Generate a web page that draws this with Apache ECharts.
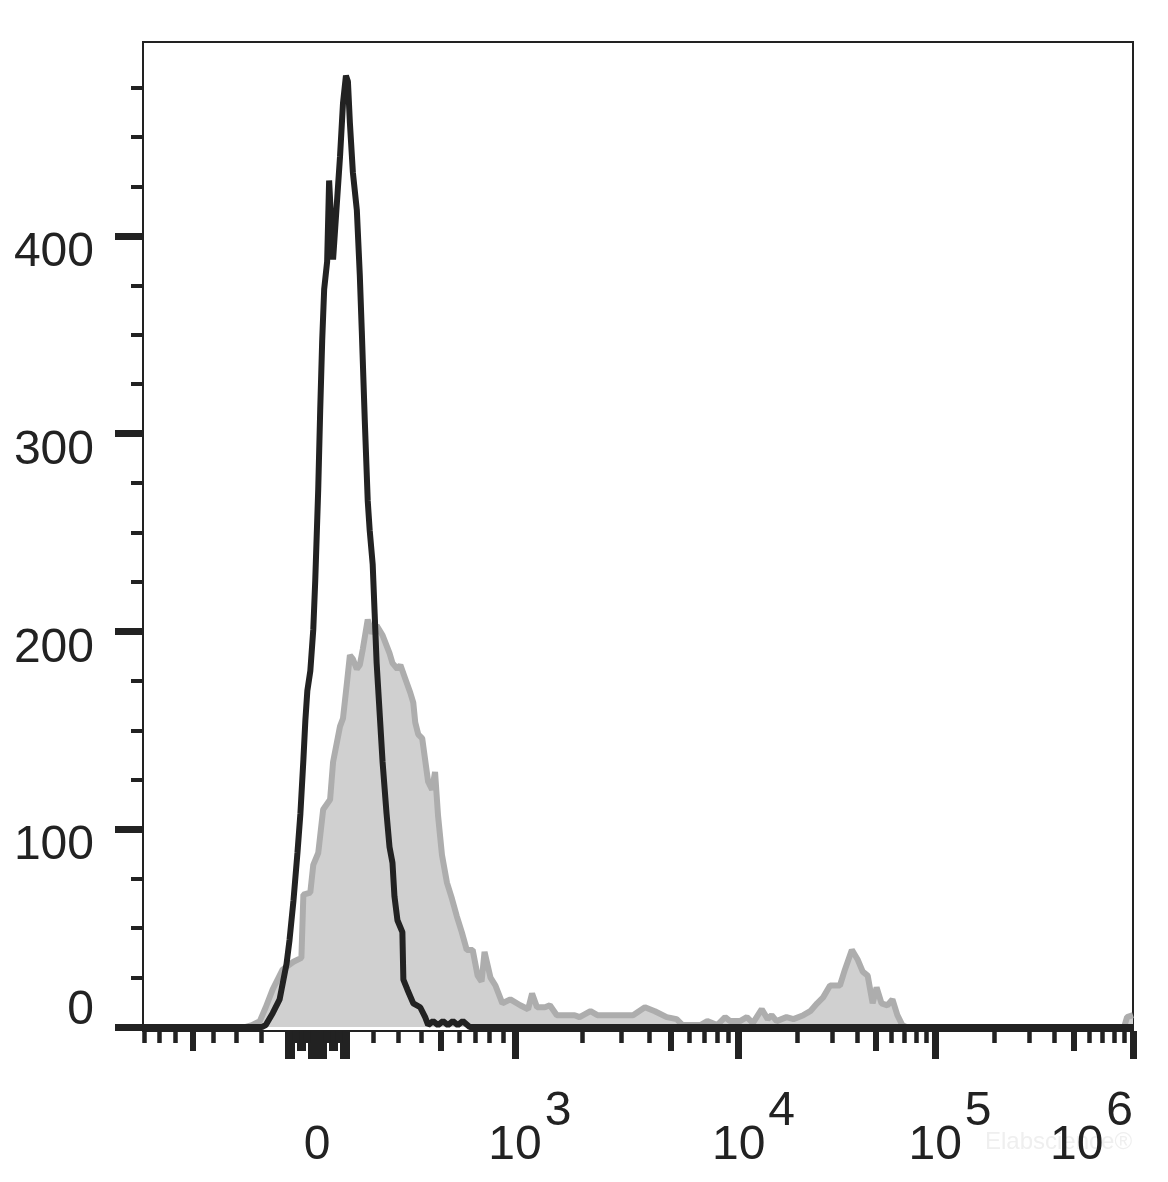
<!DOCTYPE html>
<html>
<head>
<meta charset="utf-8">
<script src="https://cdn.jsdelivr.net/npm/echarts@6/dist/echarts.min.js"></script>
<style>
html,body{margin:0;padding:0;background:#fff;}
#chart{width:1168px;height:1182px;}
</style>
</head>
<body>
<div id="chart"></div>
<script>
// ---------- DATA (display channel 0..1000, event counts) ----------
const grayChannels = [0,103,110,118,124,131,141,152,160,162,169,172,177,182,189,192,199,202,206,209,212,216,219,222,227,231,236,242,249,252,257,260,265,270,273,275,278,282,285,288,292,295,298,302,307,312,317,322,327,333,338,342,345,351,356,363,371,381,389,393,398,406,411,418,428,436,441,452,459,475,489,495,507,517,529,539,545,563,570,580,588,593,603,610,616,625,631,635,640,650,657,667,674,681,687,694,704,709,716,722,727,732,737,741,746,752,757,762,767,771,991,994,1000];
const grayCounts = [0,0,1,3,10,19,29,33,35,67,68,82,88,110,115,134,152,156,174,188,186,181,183,191,206,199,203,198,189,184,181,183,176,169,164,154,148,146,135,124,120,129,107,87,73,65,56,48,39,39,26,23,38,25,21,12,14,11,9,17,10,10,11,6,6,6,5,8,6,6,6,6,10,8,5,4,1,1,3,1,5,3,3,5,2,9,4,6,3,5,4,6,8,12,15,21,21,29,39,34,28,26,12,20,12,11,14,6,1,0,0,5,6];

const blackChannels = [0,120,124,131,138,145,148,152,156,159,162,164,166,169,172,174,177,179,181,183,186,188,192,199,202,205,207,209,212,216,219,221,224,227,229,232,234,236,239,242,246,249,252,254,257,262,263,267,273,280,285,288,293,298,303,308,313,318,323,330,1000];
const blackCounts = [0,0,1,7,14,32,44,64,88,108,135,155,170,180,201,226,272,312,347,373,387,428,388,440,467,481,478,457,432,413,380,352,307,266,251,234,209,184,159,134,108,91,83,66,54,48,24,19,12,10,5,1,3,1,3,1,3,1,3,0,0];

// y axis ticks / labels
const yMajorTicks = [0,100,200,300,400];
const yMinorTicks = [25,50,75,125,150,175,225,250,275,325,350,375,425,450,475];

// x axis ticks (fluorescence values) and labels
const xMajorTickValues = [-100,-90,-20,-10,0,10,20,90,100,1e3,1e4,1e5,1e6];
const xMediumTickValues = [-500,-60,-50,50,60,500,5e3,5e4,5e5];
const xMinorTickValues = [-800,-700,-600,-400,-300,-200,-80,-70,-40,-30,30,40,70,80,200,300,400,600,700,800,900,2e3,3e3,4e3,6e3,7e3,8e3,9e3,2e4,3e4,4e4,6e4,7e4,8e4,9e4,2e5,3e5,4e5,6e5,7e5,8e5,9e5];
const xLabelValues = [0,1e3,1e4,1e5,1e6];
const xLabelBase = ['0','10','10','10','10'];
const xLabelExp = ['','3','4','5','6'];

// ---------- display scale (biexponential-like) ----------
const X_ZERO = 175.8, X_B = 127.3, X_C = 435;
const X_DECADE_ANCHORS = [[1e4,601.5],[1e5,800],[1e6,1000]];
function toChannel(v){
  const a = Math.abs(v);
  if (a <= 1000) return X_ZERO + Math.sign(v) * X_B * Math.asinh(a / X_C);
  let lo = 1e3, loC = toChannel(1e3);
  for (const [dv, dc] of X_DECADE_ANCHORS){
    if (a <= dv) return loC + (dc - loC) * Math.log10(a / lo) / Math.log10(dv / lo);
    lo = dv; loC = dc;
  }
  return 1000;
}

const FONT = "'Liberation Sans', Arial, Helvetica, sans-serif";
const INK = '#222222';
const zip = (xs, ys) => xs.map((x, i) => [x, ys[i]]);

const chart = echarts.init(document.getElementById('chart'), null, {renderer:'canvas'});

const X_MIN = 0, X_MAX = 1000, Y_MIN = -2, Y_MAX = 498;
const baseX = {
  type:'value', min:X_MIN, max:X_MAX, position:'bottom', gridIndex:0,
  axisLine:{show:false, onZero:false},
  splitLine:{show:false},
  axisLabel:{show:false}
};
const xLabelChannels = xLabelValues.map(toChannel);
const labelText = {fontSize:48, fontFamily:FONT, color:INK};

const option = {
  animation:false,
  backgroundColor:'#ffffff',
  grid:{left:143, top:42, width:990, height:989, show:true, borderColor:INK, borderWidth:2, backgroundColor:'transparent'},
  xAxis:[
    Object.assign({}, baseX, {
      axisLine:{show:true, onZero:false, lineStyle:{color:INK, width:2}},
      axisTick:{show:true, customValues:xMajorTickValues.map(toChannel), length:28, lineStyle:{color:INK, width:7}},
      axisLabel:{
        show:true, customValues:xLabelChannels, margin:57, showMaxLabel:true, showMinLabel:true,
        formatter:function(val){
          let i = 0, best = Infinity;
          xLabelChannels.forEach((c, k) => { const d = Math.abs(c - val); if (d < best){best = d; i = k;} });
          if (!xLabelExp[i]) return '{zero|' + xLabelBase[i] + '}';
          if (i === xLabelValues.length - 1) return '{baseE|' + xLabelBase[i] + '}{expE|' + xLabelExp[i] + '}';
          return '{base|' + xLabelBase[i] + '}{exp|' + xLabelExp[i] + '}';
        },
        rich:{
          zero:Object.assign({padding:[34,0,0,0]}, labelText),
          base:Object.assign({padding:[34,0,0,30]}, labelText),
          exp:Object.assign({padding:[0,0,34,3]}, labelText),
          baseE:Object.assign({padding:[34,0,0,0]}, labelText),
          expE:Object.assign({padding:[0,83,34,3]}, labelText)
        }
      }
    }),
    Object.assign({}, baseX, {
      axisTick:{show:true, customValues:xMediumTickValues.map(toChannel), length:20, lineStyle:{color:INK, width:6}}
    }),
    Object.assign({}, baseX, {
      axisTick:{show:true, customValues:xMinorTickValues.map(toChannel), length:12, lineStyle:{color:INK, width:4.5}}
    })
  ],
  yAxis:[
    {
      type:'value', min:Y_MIN, max:Y_MAX, position:'left',
      axisLine:{show:true, onZero:false, lineStyle:{color:INK, width:2}},
      axisTick:{show:true, customValues:yMajorTicks, length:28, lineStyle:{color:INK, width:7}},
      splitLine:{show:false},
      axisLabel:{
        show:true, customValues:yMajorTicks, margin:49,
        formatter:function(v){ return v === 0 ? '{up|' + v + '}' : '{dn|' + v + '}'; },
        rich:{
          up:Object.assign({padding:[0,0,32,0]}, labelText),
          dn:Object.assign({padding:[34,0,0,0]}, labelText)
        }
      }
    },
    {
      type:'value', min:Y_MIN, max:Y_MAX, position:'left',
      axisLine:{show:false, onZero:false},
      axisTick:{show:true, customValues:yMinorTicks, length:12, lineStyle:{color:INK, width:4}},
      splitLine:{show:false},
      axisLabel:{show:false}
    }
  ],
  graphic:[{
    type:'text', left:985, top:1130, z:-1, silent:true,
    style:{text:'Elabscience®', fontSize:24, fontFamily:FONT, fill:'#efefef'}
  }],
  series:[
    {
      name:'stained', type:'line', xAxisIndex:0, yAxisIndex:0,
      data:zip(grayChannels, grayCounts),
      showSymbol:false, symbol:'none', smooth:false,
      lineStyle:{color:'#adadad', width:6},
      areaStyle:{color:'#d0d0d0', origin:'auto', opacity:1},
      z:2
    },
    {
      name:'control', type:'line', xAxisIndex:0, yAxisIndex:0,
      data:zip(blackChannels, blackCounts),
      showSymbol:false, symbol:'none', smooth:false,
      lineStyle:{color:INK, width:6},
      z:3
    }
  ]
};
chart.setOption(option);
</script>
</body>
</html>
